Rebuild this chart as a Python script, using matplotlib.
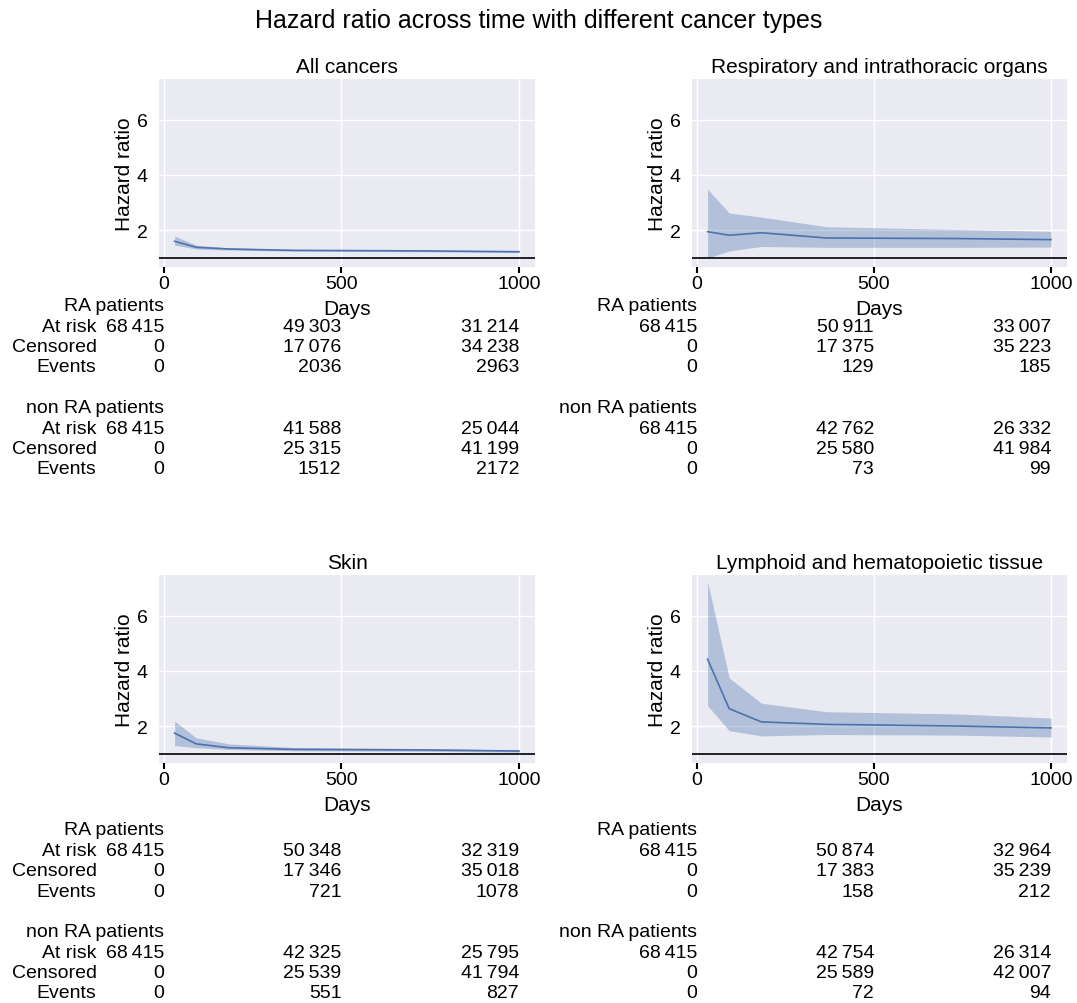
import matplotlib
matplotlib.use("Agg")
import matplotlib.pyplot as plt
from matplotlib.transforms import blended_transform_factory

plt.rcParams['font.family'] = ['Liberation Sans', 'DejaVu Sans']

# time points (days) of the hazard ratio estimates
days = [30, 91, 182, 365, 730, 1000]

titles = ["All cancers", "Respiratory and intrathoracic organs",
          "Skin", "Lymphoid and hematopoietic tissue"]

# hazard ratio with lower / upper confidence bounds
hr_all = [1.59, 1.37, 1.31, 1.26, 1.24, 1.21]
lo_all = [1.45, 1.31, 1.27, 1.23, 1.21, 1.18]
hi_all = [1.78, 1.45, 1.35, 1.29, 1.27, 1.24]

hr_resp = [1.94, 1.81, 1.90, 1.71, 1.69, 1.65]
lo_resp = [0.98, 1.24, 1.40, 1.37, 1.37, 1.38]
hi_resp = [3.48, 2.62, 2.47, 2.12, 2.02, 1.95]

hr_skin = [1.74, 1.35, 1.21, 1.15, 1.13, 1.09]
lo_skin = [1.29, 1.21, 1.15, 1.10, 1.08, 1.05]
hi_skin = [2.18, 1.57, 1.35, 1.22, 1.18, 1.13]

hr_lymph = [4.43, 2.63, 2.15, 2.06, 2.00, 1.93]
lo_lymph = [2.74, 1.83, 1.64, 1.69, 1.67, 1.60]
hi_lymph = [7.25, 3.75, 2.83, 2.52, 2.44, 2.29]

# number-at-risk tables, at days 0, 500, 1000
ra_at_risk = [[68415, 49303, 31214], [68415, 50911, 33007], [68415, 50348, 32319], [68415, 50874, 32964]]
ra_censored = [[0, 17076, 34238], [0, 17375, 35223], [0, 17346, 35018], [0, 17383, 35239]]
ra_events = [[0, 2036, 2963], [0, 129, 185], [0, 721, 1078], [0, 158, 212]]
non_at_risk = [[68415, 41588, 25044], [68415, 42762, 26332], [68415, 42325, 25795], [68415, 42754, 26314]]
non_censored = [[0, 25315, 41199], [0, 25580, 41984], [0, 25539, 41794], [0, 25589, 42007]]
non_events = [[0, 1512, 2172], [0, 73, 99], [0, 551, 827], [0, 72, 94]]
table_days = [0, 500, 1000]

hrs = [hr_all, hr_resp, hr_skin, hr_lymph]
los = [lo_all, lo_resp, lo_skin, lo_lymph]
his = [hi_all, hi_resp, hi_skin, hi_lymph]

blue = "#4C72B0"
W, H = 1077, 1004


def fmt(n):
    if n >= 10000:
        return "{:,}".format(n).replace(",", "\u2009")
    return str(n)


fig = plt.figure(figsize=(W / 100, H / 100), dpi=100)
fig.suptitle("Hazard ratio across time with different cancer types",
             fontsize=18, y=1 - 21 / H, va="center")

lefts = [159, 692, 159, 692]
tops = [80, 80, 576, 576]
widths = [376, 375, 376, 375]
axh = 188
table_start = [-0.207, -0.207, -0.356, -0.356]
row_step = 0.1083

for i in range(4):
    ax = fig.add_axes([lefts[i] / W, 1 - (tops[i] + axh) / H, widths[i] / W, axh / H])
    ax.set_facecolor("#EAEAF2")
    for s in ax.spines.values():
        s.set_visible(False)
    ax.grid(True, color="white", linewidth=1)
    ax.set_axisbelow(True)

    ax.fill_between(days, los[i], his[i], color=blue, alpha=0.35, linewidth=0)
    ax.plot(days, hrs[i], color=blue, linewidth=1.2)
    ax.axhline(1, color="black", linewidth=1.2)

    ax.set_xlim(-14, 1045)
    ax.set_ylim(0.655, 7.49)
    ax.set_xticks([0, 500, 1000])
    ax.set_yticks([2, 4, 6])
    ax.tick_params(axis="x", direction="out", length=4, width=1.5, color="black",
                   pad=2, labelsize=14)
    ax.tick_params(axis="y", length=0, pad=8, labelsize=14)
    ax.set_xlabel("Days", fontsize=15, labelpad=5)
    ax.set_ylabel("Hazard ratio", fontsize=15, labelpad=2)
    ax.set_title(titles[i], fontsize=15, pad=5)

    # at-risk table below the axes
    tr = blended_transform_factory(ax.transData, ax.transAxes)
    rows = [("RA patients", None),
            ("At risk", ra_at_risk[i]), ("Censored", ra_censored[i]), ("Events", ra_events[i]),
            None,
            ("non RA patients", None),
            ("At risk", non_at_risk[i]), ("Censored", non_censored[i]), ("Events", non_events[i])]
    for r, row in enumerate(rows):
        if row is None:
            continue
        y = table_start[i] - r * row_step
        label, vals = row
        if vals is None:
            ax.text(0, y, label, transform=tr, ha="right", va="center", fontsize=14)
            continue
        if i % 2 == 0:
            ax.text(-190, y, label, transform=tr, ha="right", va="center", fontsize=14)
        for d, v in zip(table_days, vals):
            ax.text(d, y, fmt(v), transform=tr, ha="right", va="center", fontsize=14)

fig.savefig("out.png", dpi=100)
